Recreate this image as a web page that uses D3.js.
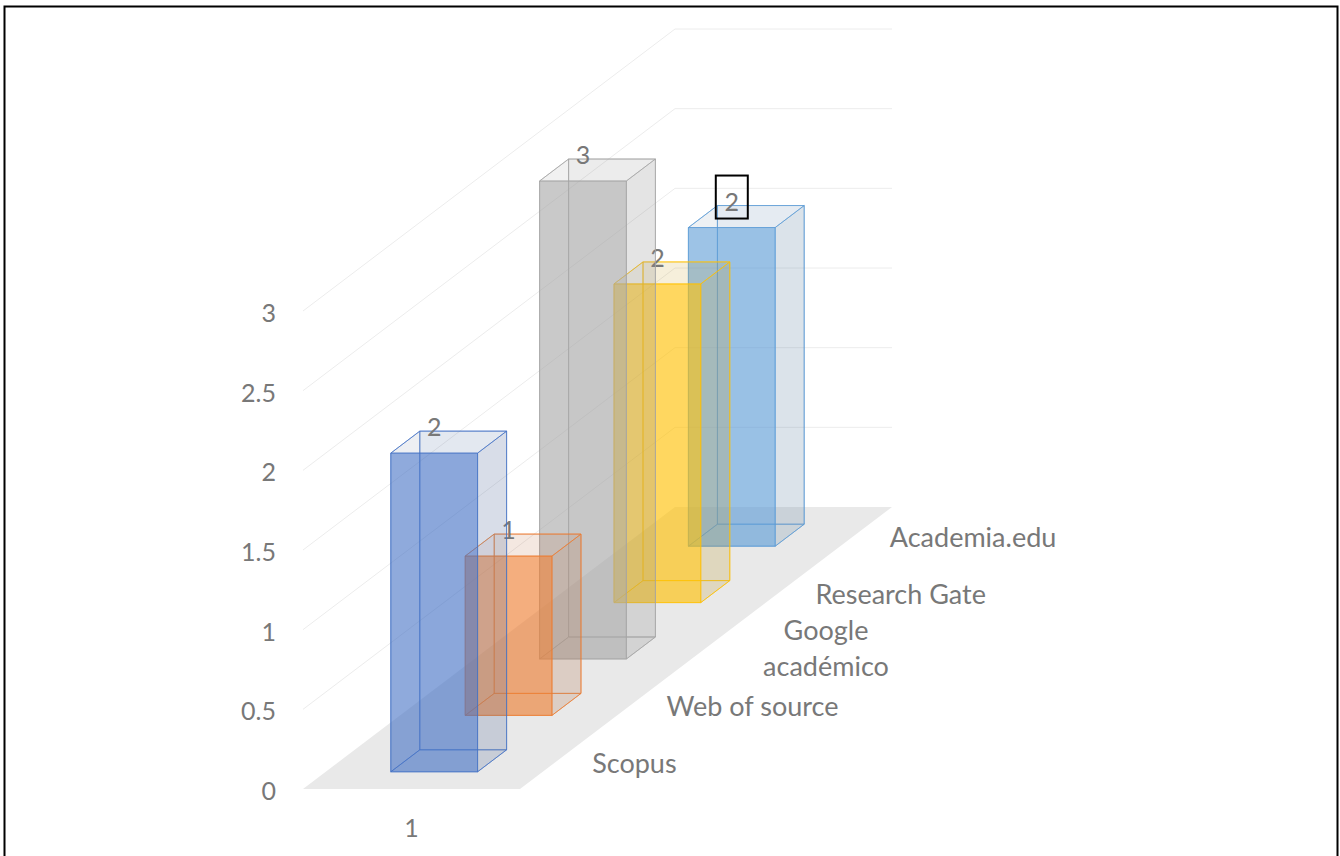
<!DOCTYPE html>
<html>
<head>
<meta charset="utf-8">
<script src="https://cdn.jsdelivr.net/npm/d3@7"></script>
<style>
  html, body { margin: 0; padding: 0; background: #ffffff; }
  svg { display: block; }
  text { font-family: Lato, "Open Sans", sans-serif; fill: #787878; }
</style>
</head>
<body>
<script>
// ---- data ----
const categories = ["1"];
const seriesNames = ["Scopus", "Web of source", "Google académico", "Research Gate", "Academia.edu"];
const seriesLabelLines = [["Scopus"], ["Web of source"], ["Google", "académico"], ["Research Gate"], ["Academia.edu"]];
const values = [2, 1, 3, 2, 2];
const valueLabels = ["2", "1", "3", "2", "2"];
const yTicks = [0, 0.5, 1, 1.5, 2, 2.5, 3];
const yTickLabels = ["0", "0.5", "1", "1.5", "2", "2.5", "3"];
const highlightedSeries = "Academia.edu";

// ---- layout ----
const width = 1340, height = 856;
const X0 = 303, Y0 = 789;      // front-left corner of the floor
const W = 217;                 // floor width (category axis)
const DX = 372, DY = -282;     // full depth vector

const svg = d3.select("body").append("svg")
  .attr("width", width).attr("height", height);

const color = d3.scaleOrdinal().domain(seriesNames)
  .range(["#4472C4", "#ED7D31", "#A5A5A5", "#FFC000", "#5B9BD5"]);
const y = d3.scaleLinear().domain([0, 3]).range([0, 478]);
const xBand = d3.scaleBand().domain(categories).range([0, W]);
const z = d3.scaleBand().domain(seriesNames).range([0, 1]).paddingInner(0.61).paddingOuter(0.305);

function P(xp, zf, h) { return [X0 + xp + zf * DX, Y0 - h + zf * DY]; }
const poly = pts => "M" + pts.map(p => p.join(",")).join("L") + "Z";

// outer frame
svg.append("rect")
  .attr("x", 4.5).attr("y", 6.5).attr("width", 1333).attr("height", 870)
  .attr("fill", "none").attr("stroke", "#000").attr("stroke-width", 2);

// floor
svg.append("path")
  .attr("d", poly([P(0, 0, 0), P(W, 0, 0), P(W, 1, 0), P(0, 1, 0)]))
  .attr("fill", "#e9e9e9");

// gridlines (left wall + back wall)
svg.append("g").selectAll("path").data(yTicks.filter(t => t > 0)).join("path")
  .attr("d", t => "M" + P(0, 0, y(t)).join(",") + "L" + P(0, 1, y(t)).join(",") + "L" + P(W, 1, y(t)).join(","))
  .attr("fill", "none").attr("stroke", "#ececec").attr("stroke-width", 1);

// y tick labels
svg.append("g").selectAll("text").data(yTicks).join("text")
  .attr("x", 276).attr("y", t => Y0 - y(t) + 11)
  .attr("text-anchor", "end").attr("font-size", 25)
  .text((t, i) => yTickLabels[i]);

// category label
svg.append("text")
  .attr("x", X0 + xBand(categories[0]) + xBand.bandwidth() / 2)
  .attr("y", 837).attr("text-anchor", "middle").attr("font-size", 25)
  .text(categories[0]);

// series labels on depth axis
seriesNames.forEach((name, i) => {
  const zc = z(name) + z.bandwidth() / 2;
  const [px, py] = P(W, zc, 0);
  const lines = seriesLabelLines[i];
  if (lines.length === 1) {
    svg.append("text").attr("x", px + 35).attr("y", py + 12)
      .attr("font-size", 27).text(lines[0]);
  } else {
    lines.forEach((ln, j) => {
      svg.append("text").attr("x", px + 120).attr("y", py - 8 + j * 36)
        .attr("text-anchor", "middle").attr("font-size", 27).text(ln);
    });
  }
});

// bars (back to front)
const bw = xBand.bandwidth();
const order = seriesNames.map((n, i) => i).reverse();
order.forEach(i => {
  const name = seriesNames[i];
  const c = d3.color(color(name));
  const side = d3.color(d3.interpolateRgb(color(name), "#7f7f7f")(0.6));
  const x0 = xBand(categories[0]) + 0.3 * bw, x1 = x0 + 0.4 * bw;
  const z0 = z(name), z1 = z0 + z.bandwidth();
  const h = y(values[i]);
  const g = svg.append("g");
  const stroke = color(name);
  const faces = [
    { pts: [P(x0, z1, 0), P(x1, z1, 0), P(x1, z1, h), P(x0, z1, h)], fill: c.copy({opacity: 0.06}) },
    { pts: [P(x0, z0, 0), P(x0, z1, 0), P(x0, z1, h), P(x0, z0, h)], fill: c.copy({opacity: 0.0}) },
    { pts: [P(x0, z0, 0), P(x1, z0, 0), P(x1, z1, 0), P(x0, z1, 0)], fill: c.copy({opacity: 0.05}) },
    { pts: [P(x1, z0, 0), P(x1, z1, 0), P(x1, z1, h), P(x1, z0, h)], fill: side.copy({opacity: 0.2}) },
    { pts: [P(x0, z0, h), P(x1, z0, h), P(x1, z1, h), P(x0, z1, h)], fill: side.copy({opacity: 0.12}) },
    { pts: [P(x0, z0, 0), P(x1, z0, 0), P(x1, z0, h), P(x0, z0, h)], fill: c.copy({opacity: 0.6}) }
  ];
  g.selectAll("path").data(faces).join("path")
    .attr("d", d => poly(d.pts))
    .attr("fill", d => d.fill.toString())
    .attr("stroke", stroke).attr("stroke-opacity", 0.65).attr("stroke-width", 1)
    .attr("stroke-linejoin", "round");

  // value label
  const lx = P((x0 + x1) / 2, z0, h)[0];
  const ly = P(x0, z1, h)[1] + 5;
  svg.append("text").attr("x", lx).attr("y", ly)
    .attr("text-anchor", "middle").attr("font-size", 25).text(valueLabels[i]);
  if (name === highlightedSeries) {
    svg.append("rect").attr("x", lx - 16).attr("y", ly - 35).attr("width", 32).attr("height", 43)
      .attr("fill", "none").attr("stroke", "#000").attr("stroke-width", 2);
  }
});
</script>
</body>
</html>
